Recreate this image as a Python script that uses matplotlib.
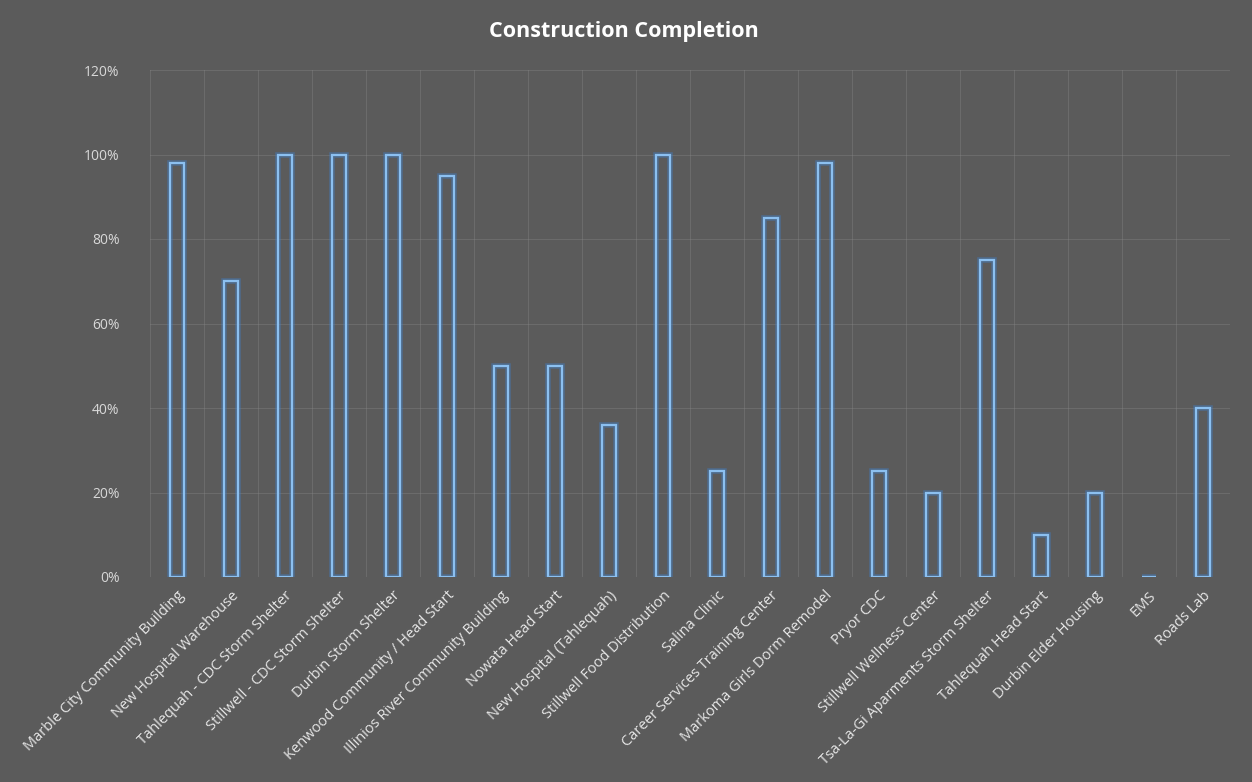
import matplotlib
matplotlib.use("Agg")
import matplotlib.pyplot as plt
from matplotlib.ticker import PercentFormatter, MultipleLocator

projects = [
    "Marble City Community Building", "New Hospital Warehouse",
    "Tahlequah - CDC Storm Shelter", "Stillwell - CDC Storm Shelter",
    "Durbin Storm Shelter", "Kenwood Community / Head Start",
    "Illinios River Community Building", "Nowata Head Start",
    "New Hospital (Tahlequah)", "Stillwell Food Distribution",
    "Salina Clinic", "Career Services Training Center",
    "Markoma Girls Dorm Remodel", "Pryor CDC", "Stillwell Wellness Center",
    "Tsa-La-Gi Aparments Storm Shelter", "Tahlequah Head Start",
    "Durbin Elder Housing", "EMS", "Roads Lab",
]
completion = [98, 70, 100, 100, 100, 95, 50, 50, 36, 100,
              25, 85, 98, 25, 20, 75, 10, 20, 0, 40]

bg = "#5b5b5b"
txt = "#e6e6e6"
plt.rcParams["font.family"] = ["Open Sans", "DejaVu Sans"]

fig = plt.figure(figsize=(12.52, 7.82), dpi=100, facecolor=bg)
ax = fig.add_axes([150 / 1252, 1 - 577 / 782, 1080 / 1252, 507 / 782])
ax.set_facecolor(bg)

x = range(len(projects))
# soft glow behind the outline
ax.bar(x, completion, width=0.27, facecolor="none", edgecolor="#3f7fc8",
       linewidth=4, alpha=0.45, zorder=3)
ax.bar(x, completion, width=0.27, facecolor="none", edgecolor="#8cc0f0",
       linewidth=1.6, zorder=4)

ax.set_xlim(-0.5, len(projects) - 0.5)
ax.set_ylim(0, 120)
ax.yaxis.set_major_locator(MultipleLocator(20))
ax.yaxis.set_major_formatter(PercentFormatter(decimals=0))

ax.set_xticks(list(x))
ax.set_xticklabels(projects, rotation=45, ha="right", rotation_mode="anchor",
                   fontsize=10.5, color=txt)
ax.set_xticks([i + 0.5 for i in range(-1, len(projects))], minor=True)
ax.tick_params(axis="x", which="both", length=0, pad=8)
ax.tick_params(axis="y", length=0, pad=22, labelcolor="#d8d8d8", labelsize=10)

ax.grid(axis="y", color="#8a8a8a", linewidth=0.8, alpha=0.35, zorder=0)
ax.grid(axis="x", which="minor", color="#8a8a8a", linewidth=0.8, alpha=0.35, zorder=0)
ax.grid(axis="x", which="major", visible=False)
for s in ax.spines.values():
    s.set_visible(False)

fig.text(0.4985, 1 - 31 / 782, "Construction Completion", ha="center", va="center",
         fontsize=15.5, fontweight="bold", color="white")

fig.savefig("out.png", dpi=100, facecolor=bg)
